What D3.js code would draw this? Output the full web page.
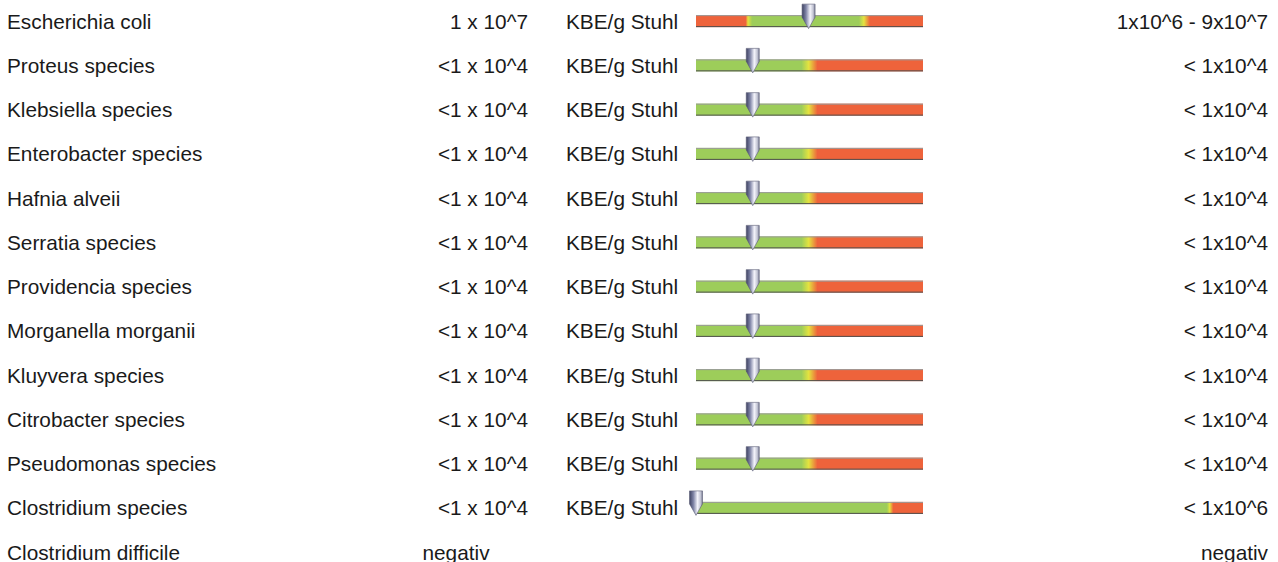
<!DOCTYPE html>
<meta charset="utf-8">
<style>
body {
    margin: 0;
    background: #fff;
}
text {
    font-family: "Liberation Sans", Arial, sans-serif;
    font-size: 20.8px;
    fill: #1a1a1a;
}
</style>
<body>
<svg style="width:1278px; height:562px; display:block;"></svg>
<script src="https://cdn.jsdelivr.net/npm/d3@7"></script>
<script>

// rows of the report
var names = ["Escherichia coli", "Proteus species", "Klebsiella species", "Enterobacter species",
    "Hafnia alveii", "Serratia species", "Providencia species", "Morganella morganii",
    "Kluyvera species", "Citrobacter species", "Pseudomonas species", "Clostridium species",
    "Clostridium difficile"];
var results = ["1 x 10^7", "<1 x 10^4", "<1 x 10^4", "<1 x 10^4", "<1 x 10^4", "<1 x 10^4",
    "<1 x 10^4", "<1 x 10^4", "<1 x 10^4", "<1 x 10^4", "<1 x 10^4", "<1 x 10^4", "negativ"];
var units = ["KBE/g Stuhl", "KBE/g Stuhl", "KBE/g Stuhl", "KBE/g Stuhl", "KBE/g Stuhl", "KBE/g Stuhl",
    "KBE/g Stuhl", "KBE/g Stuhl", "KBE/g Stuhl", "KBE/g Stuhl", "KBE/g Stuhl", "KBE/g Stuhl", ""];
var refRanges = ["1x10^6 - 9x10^7", "< 1x10^4", "< 1x10^4", "< 1x10^4", "< 1x10^4", "< 1x10^4",
    "< 1x10^4", "< 1x10^4", "< 1x10^4", "< 1x10^4", "< 1x10^4", "< 1x10^6", "negativ"];

// gauge readings, in percent of the bar (null = no bar)
var markerPos = [49.6, 25, 25, 25, 25, 25, 25, 25, 25, 25, 25, 0, null];
var normalLow = [23.3, 0, 0, 0, 0, 0, 0, 0, 0, 0, 0, 0, null];
var normalHigh = [74.2, 50, 50, 50, 50, 50, 50, 50, 50, 50, 50, 85.5, null];

var svg = d3.select("svg");
var red = "#ee633b", green = "#9dcd5a", yellow = "#e4e33f";

var yScale = d3.scaleBand()
    .domain(names)
    .range([-1, -1 + 44.25 * names.length]);
var xGauge = d3.scaleLinear()
    .domain([0, 100])
    .range([696, 923]);

var rows = names.map(function(n, i) {
    return {name: n, result: results[i], unit: units[i], ref: refRanges[i],
        marker: markerPos[i], low: normalLow[i], high: normalHigh[i], i: i};
});

var defs = svg.append("defs");

// silver pointer
var pg = defs.append("linearGradient").attr("id", "pointer")
    .attr("x1", "0%").attr("x2", "100%").attr("y1", "0%").attr("y2", "0%");
pg.append("stop").attr("offset", "0%").attr("stop-color", "#3e4262");
pg.append("stop").attr("offset", "30%").attr("stop-color", "#7f84a6");
pg.append("stop").attr("offset", "62%").attr("stop-color", "#f4f4fb");
pg.append("stop").attr("offset", "85%").attr("stop-color", "#c3c5d4");
pg.append("stop").attr("offset", "100%").attr("stop-color", "#767a92");

// one colour gradient per bar
rows.forEach(function(d) {
    if (d.marker === null) return;
    var g = defs.append("linearGradient").attr("id", "bar" + d.i)
        .attr("x1", "0%").attr("x2", "100%").attr("y1", "0%").attr("y2", "0%");
    var stops = [];
    var bw = d.i === 0 ? 1.4 : (d.i === 11 ? 1.4 : 3.5);
    if (d.low > 0) {
        stops.push([0, red], [d.low - bw, red], [d.low - bw * 0.3, yellow], [d.low + bw, green]);
    } else {
        stops.push([0, green]);
    }
    var hw = d.i === 0 ? 2.4 : bw;
    stops.push([d.high - hw, green], [d.high - hw * 0.1, yellow], [d.high + hw, red], [100, red]);
    stops.forEach(function(s) {
        g.append("stop").attr("offset", s[0] + "%").attr("stop-color", s[1]);
    });
});

var row = svg.selectAll("g.row")
    .data(rows)
    .enter().append("g")
    .attr("class", "row")
    .attr("transform", function(d) { return "translate(0," + (yScale(d.name) + yScale.bandwidth() / 2) + ")"; });

row.append("text")
    .attr("x", 7)
    .attr("y", 7.5)
    .text(function(d) { return d.name; });

row.append("text")
    .attr("x", function(d) { return d.marker === null ? 456 : 528; })
    .attr("y", 7.5)
    .style("text-anchor", function(d) { return d.marker === null ? "middle" : "end"; })
    .text(function(d) { return d.result; });

row.append("text")
    .attr("x", 566)
    .attr("y", 7.5)
    .text(function(d) { return d.unit; });

row.append("text")
    .attr("x", 1268)
    .attr("y", 7.5)
    .style("text-anchor", "end")
    .text(function(d) { return d.ref; });

var gauge = row.filter(function(d) { return d.marker !== null; });

gauge.append("rect")
    .attr("x", xGauge(0))
    .attr("y", -6)
    .attr("width", xGauge(100) - xGauge(0))
    .attr("height", 12)
    .attr("fill", function(d) { return "url(#bar" + d.i + ")"; });
gauge.append("line")
    .attr("x1", xGauge(0)).attr("x2", xGauge(100))
    .attr("y1", -5.5).attr("y2", -5.5)
    .attr("stroke", "#9a9a9a").attr("stroke-width", 1);
gauge.append("line")
    .attr("x1", xGauge(0)).attr("x2", xGauge(100))
    .attr("y1", 5.5).attr("y2", 5.5)
    .attr("stroke", "#4e4e4e").attr("stroke-width", 1);

gauge.append("path")
    .attr("d", function(d) {
        var x = xGauge(d.marker);
        return "M" + (x - 6.5) + ",-17 L" + (x + 6.5) + ",-17 L" + (x + 6.5) + ",-4 L" + x + ",7.5 L" + (x - 6.5) + ",-4 Z";
    })
    .attr("fill", "url(#pointer)")
    .attr("stroke", "#5a5d75")
    .attr("stroke-width", 0.6);

</script>
